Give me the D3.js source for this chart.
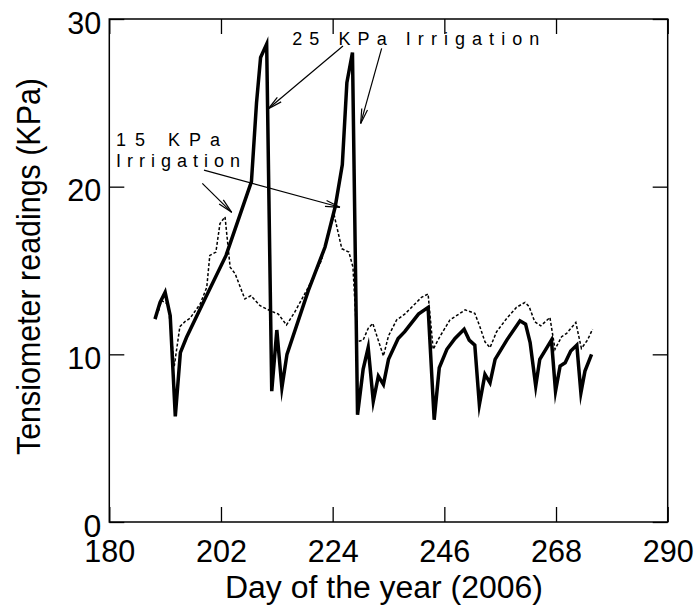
<!DOCTYPE html>
<html>
<head>
<meta charset="utf-8">
<script src="https://cdn.jsdelivr.net/npm/d3@7"></script>
<style>
  html, body { margin: 0; padding: 0; background: #fff; }
  text { font-family: "Liberation Sans", Arial, sans-serif; fill: #000; }
</style>
</head>
<body>
<svg id="chart" width="698" height="607"></svg>
<script>
// ---- data ----
const xTicks = [180, 202, 224, 246, 268, 290];
const yTicks = [0, 10, 20, 30];

// 25 KPa irrigation treatment (thick solid line)
const days25 = [189, 190, 191, 192, 193, 194, 195.2, 199, 203, 208, 209, 209.8, 211, 212, 213, 214, 215, 219.2, 222.5, 224.5, 225.9, 226.8, 227.9, 228.9, 230, 231, 232, 233, 234, 235, 236.9, 238.2, 240.9, 242.8, 244, 245, 246.5, 248.1, 249.9, 250.9, 252, 252.9, 254, 255, 256, 258.3, 260.9, 262, 262.9, 264, 264.8, 266.2, 267.1, 267.9, 268.8, 269.8, 270.9, 272.1, 272.9, 273.7, 275];
const kpa25 = [12.1, 13.1, 13.7, 12.3, 6.3, 10.1, 11.0, 13.4, 15.9, 20.3, 25.0, 27.7, 28.5, 7.8, 11.45, 8.0, 10.0, 13.8, 16.4, 18.8, 21.3, 26.2, 28.0, 6.4, 9.1, 10.4, 7.2, 8.7, 8.2, 9.7, 10.95, 11.35, 12.4, 12.8, 6.1, 9.2, 10.3, 10.95, 11.5, 10.85, 10.55, 7.0, 8.8, 8.3, 9.7, 10.85, 12.0, 11.8, 10.7, 8.1, 9.7, 10.4, 10.85, 7.8, 9.3, 9.5, 10.2, 10.55, 7.7, 9.0, 10.0];

// 15 KPa irrigation treatment (thin dotted line)
const days15 = [189.7, 190.3, 191.6, 192.8, 193.9, 194.9, 195.9, 197.9, 199.2, 199.8, 201, 201.8, 202.8, 203.8, 204.8, 206.7, 207.9, 209.7, 211.7, 213.3, 214.9, 216.5, 219.2, 221.8, 223.1, 224.3, 225.8, 227.2, 228, 228.8, 230, 231, 231.9, 234, 235, 236.6, 238.2, 240.2, 241.5, 242.8, 243.8, 245.1, 247.1, 250.1, 252, 253, 254, 255, 256.3, 258.3, 260.2, 261.9, 262.7, 263.8, 265, 266.8, 267.8, 269.1, 270.1, 271.9, 273, 274.2, 275.2];
const kpa15 = [12.6, 13.2, 13.0, 9.3, 11.65, 11.95, 12.15, 13.0, 14.0, 15.9, 16.1, 17.8, 18.2, 15.2, 14.8, 13.3, 13.5, 12.9, 12.6, 12.4, 11.75, 12.5, 14.0, 15.6, 17.2, 18.3, 16.3, 16.1, 15.2, 10.75, 10.85, 11.55, 11.85, 9.9, 11.1, 12.05, 12.4, 13.0, 13.4, 13.6, 10.3, 11.05, 12.05, 12.65, 12.45, 11.65, 10.75, 10.4, 11.35, 12.15, 12.8, 13.1, 12.85, 11.95, 11.7, 12.2, 10.3, 11.05, 11.25, 11.9, 10.35, 10.85, 11.5];

// annotation labels and arrows (in data units: day, KPa)
const labelTexts = ["25 KPa Irrigation", "15 KPa", "Irrigation"];
const labelDays = [216.05, 181.34, 181.34];
const labelKpa = [28.45, 22.44, 21.19];
const arrowFrom = [[226.03, 28.39], [233.65, 28.25], [198.65, 20.99], [198.32, 20.2]];
const arrowTo = [[211.26, 24.63], [229.52, 23.77], [225.44, 18.77], [204.11, 18.47]];

const xTitle = "Day of the year (2006)";
const yTitle = "Tensiometer readings (KPa)";

// ---- layout ----
const pLeft = 109.3, pRight = 667.7, pTop = 19, pBottom = 522;
const svg = d3.select("#chart");

const x = d3.scaleLinear().domain([180, 290]).range([pLeft, pRight]);
const y = d3.scaleLinear().domain([0, 30]).range([pBottom, pTop]);

// frame
svg.append("rect")
  .attr("x", pLeft).attr("y", pTop)
  .attr("width", pRight - pLeft).attr("height", pBottom - pTop)
  .attr("fill", "none").attr("stroke", "#000").attr("stroke-width", 1.5);

function styleAxis(g) {
  g.select(".domain").remove();
  g.selectAll(".tick line").attr("stroke", "#000").attr("stroke-width", 1.3);
}
function styleTickText(sel) {
  sel.attr("font-size", 32)
    .attr("font-family", "Liberation Sans, Arial, sans-serif").attr("fill", "#000")
    .each(function () {
      const n = this.textContent.length;
      if (n > 1) d3.select(this).attr("textLength", 17 * n).attr("lengthAdjust", "spacingAndGlyphs");
    });
}

// bottom axis with labels
const gx = svg.append("g").attr("transform", `translate(0,${pBottom})`)
  .call(d3.axisBottom(x).tickValues(xTicks).tickFormat(d3.format("d"))
    .tickSizeInner(-15).tickSizeOuter(0).tickPadding(17));
styleAxis(gx);
styleTickText(gx.selectAll("text"));

// top axis (ticks only)
const gt = svg.append("g").attr("transform", `translate(0,${pTop})`)
  .call(d3.axisTop(x).tickValues(xTicks).tickFormat("").tickSizeInner(-15).tickSizeOuter(0));
styleAxis(gt);

// left axis with labels
const gy = svg.append("g").attr("transform", `translate(${pLeft},0)`)
  .call(d3.axisLeft(y).tickValues(yTicks).tickFormat(d3.format("d"))
    .tickSizeInner(-15).tickSizeOuter(0).tickPadding(8));
styleAxis(gy);
styleTickText(gy.selectAll("text"));
gy.selectAll("text").attr("dy", "0.44em");

// right axis (ticks only)
const gr = svg.append("g").attr("transform", `translate(${pRight},0)`)
  .call(d3.axisRight(y).tickValues(yTicks).tickFormat("").tickSizeInner(-15).tickSizeOuter(0));
styleAxis(gr);

// series
const line = d3.line().x(d => x(d[0])).y(d => y(d[1]));
const s25 = days25.map((d, i) => [d, kpa25[i]]);
const s15 = days15.map((d, i) => [d, kpa15[i]]);

svg.append("path").datum(s15).attr("d", line)
  .attr("fill", "none").attr("stroke", "#000").attr("stroke-width", 1.5)
  .attr("stroke-dasharray", "3,2");

svg.append("path").datum(s25).attr("d", line)
  .attr("fill", "none").attr("stroke", "#000").attr("stroke-width", 3.5)
  .attr("stroke-linejoin", "miter").attr("stroke-miterlimit", 10);

// annotation labels
const labelLengths = [247, 104, 124];
labelTexts.forEach((t, i) => {
  svg.append("text")
    .attr("x", x(labelDays[i])).attr("y", y(labelKpa[i]))
    .attr("font-size", 18)
    .attr("textLength", labelLengths[i]).attr("lengthAdjust", "spacing")
    .text(t);
});

// annotation arrows
arrowFrom.forEach((f, i) => {
  const x1 = x(f[0]), y1 = y(f[1]);
  const x2 = x(arrowTo[i][0]), y2 = y(arrowTo[i][1]);
  svg.append("line").attr("x1", x1).attr("y1", y1).attr("x2", x2).attr("y2", y2)
    .attr("stroke", "#000").attr("stroke-width", 1.2);
  const ang = Math.atan2(y1 - y2, x1 - x2);
  const len = 15, spread = 0.2;
  [ang - spread, ang + spread].forEach(a => {
    svg.append("line").attr("x1", x2).attr("y1", y2)
      .attr("x2", x2 + len * Math.cos(a)).attr("y2", y2 + len * Math.sin(a))
      .attr("stroke", "#000").attr("stroke-width", 1.2);
  });
});

// axis titles
svg.append("text")
  .attr("x", 225).attr("y", 598)
  .attr("font-size", 31)
  .attr("textLength", 318).attr("lengthAdjust", "spacingAndGlyphs")
  .text(xTitle);

svg.append("text")
  .attr("transform", "translate(40,455) rotate(-90)")
  .attr("x", 0).attr("y", 0)
  .attr("font-size", 33)
  .attr("textLength", 377).attr("lengthAdjust", "spacingAndGlyphs")
  .text(yTitle);
</script>
</body>
</html>
